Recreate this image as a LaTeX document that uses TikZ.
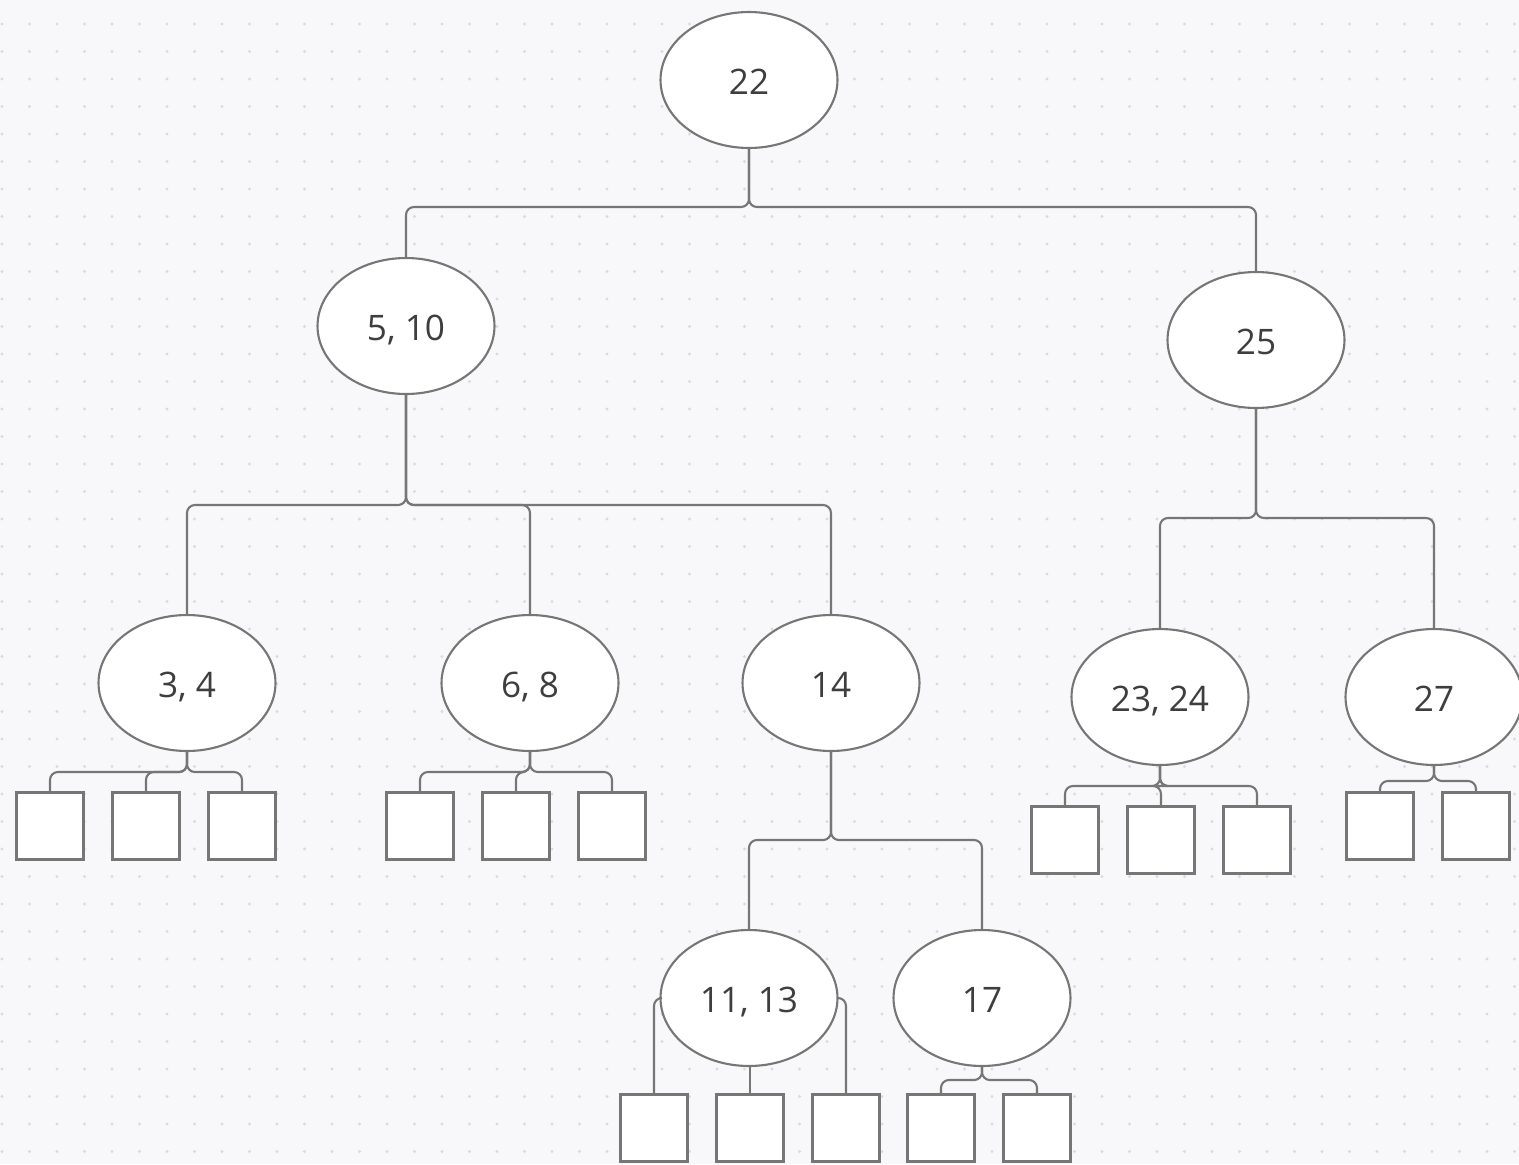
\documentclass[tikz,border=0pt]{standalone}
\usepackage{fontspec}
\setmainfont{Open Sans}
\usepackage{tikz}
\usetikzlibrary{positioning,shapes.geometric}
\definecolor{edge}{RGB}{118,118,118}
\definecolor{ink}{RGB}{62,62,62}
\definecolor{paper}{RGB}{248,248,250}
\definecolor{griddot}{RGB}{218,218,224}

\begin{document}
\begin{tikzpicture}[x=0.02cm,y=-0.02cm,font=\fontsize{20}{24}\selectfont]
    \tikzstyle{key}=[ellipse, draw=edge, line width=1.2pt, fill=white, text=ink, minimum width=3.54cm, minimum height=2.72cm, inner sep=0pt, text height=17pt, text depth=0pt]
    \tikzstyle{leaf}=[rectangle, draw=edge, line width=1.2pt, fill=white, minimum size=1.34cm, inner sep=0pt, node distance=1.92cm, on grid]
    \tikzstyle{link}=[draw=edge, line width=1.2pt, rounded corners=4.5pt]

    % page and dot grid
    \fill[paper] (0,0) rectangle (1519,1164);
    \useasboundingbox (0,0) rectangle (1519,1164);
    \foreach \i in {0,...,55} {
        \foreach \j in {0,...,42} {
            \fill[griddot] (2+27.5*\i,24+27.5*\j) circle (0.9pt);
        }
    }

    % keys
    \node[key] (k22) at (749,80) {22};
    \node[key] (k510) at (406,326) {5, 10};
    \node[key] (k25) at (1256,340) {25};
    \node[key] (k34) at (187,683) {3, 4};
    \node[key] (k68) at (530,683) {6, 8};
    \node[key] (k14) at (831,683) {14};
    \node[key] (k2324) at (1160,697) {23, 24};
    \node[key] (k27) at (1434,697) {27};
    \node[key] (k1113) at (749,998) {11, 13};
    \node[key] (k17) at (982,998) {17};

    % leaves
    \node[leaf] (l34a) at (50,826) {};
    \node[leaf,right=of l34a] (l34b) {};
    \node[leaf,right=of l34b] (l34c) {};
    \node[leaf] (l68a) at (420,826) {};
    \node[leaf,right=of l68a] (l68b) {};
    \node[leaf,right=of l68b] (l68c) {};
    \node[leaf] (l2324a) at (1065,840) {};
    \node[leaf,right=of l2324a] (l2324b) {};
    \node[leaf,right=of l2324b] (l2324c) {};
    \node[leaf] (l27a) at (1380,826) {};
    \node[leaf,right=of l27a] (l27b) {};
    \node[leaf] (l1113a) at (654,1128) {};
    \node[leaf,right=of l1113a] (l1113b) {};
    \node[leaf,right=of l1113b] (l1113c) {};
    \node[leaf] (l17a) at (941,1128) {};
    \node[leaf,right=of l17a] (l17b) {};

    % links
    \draw[link] (k22.south) -- (k22.south |- 0,207) -| (k510.north);
    \draw[link] (k22.south) -- (k22.south |- 0,207) -| (k25.north);
    \foreach \c in {k34,k68,k14}
        \draw[link] (k510.south) -- (k510.south |- 0,505) -| (\c.north);
    \foreach \c in {k2324,k27}
        \draw[link] (k25.south) -- (k25.south |- 0,518) -| (\c.north);
    \foreach \c in {k1113,k17}
        \draw[link] (k14.south) -- (k14.south |- 0,840) -| (\c.north);
    \foreach \c in {l34a,l34b,l34c}
        \draw[link] (k34.south) -- (k34.south |- 0,772) -| (\c.north);
    \foreach \c in {l68a,l68b,l68c}
        \draw[link] (k68.south) -- (k68.south |- 0,772) -| (\c.north);
    \foreach \c in {l2324a,l2324b,l2324c}
        \draw[link] (k2324.south) -- (k2324.south |- 0,786) -| (\c.north);
    \foreach \c in {l27a,l27b}
        \draw[link] (k27.south) -- (k27.south |- 0,781) -| (\c.north);
    \foreach \c in {l17a,l17b}
        \draw[link] (k17.south) -- (k17.south |- 0,1080) -| (\c.north);
    \draw[link] (k1113.west) -| (l1113a.north);
    \draw[link] (l1113b.north |- k1113.south) -- (l1113b.north);
    \draw[link] (k1113.east) -| (l1113c.north);
\end{tikzpicture}
\end{document}
